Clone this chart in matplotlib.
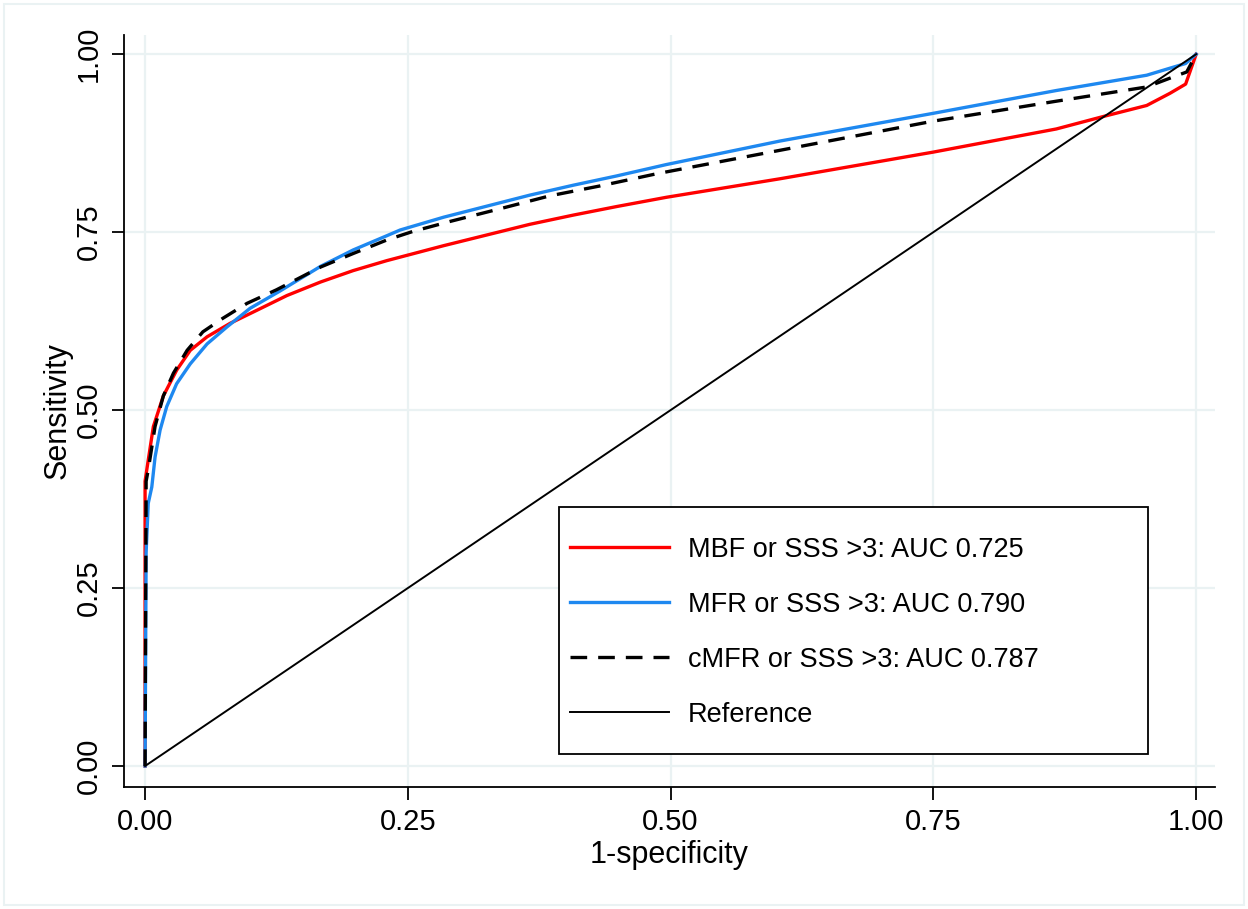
import matplotlib
matplotlib.use("Agg")
import matplotlib.pyplot as plt
from matplotlib.patches import Rectangle

plt.rcParams['font.family'] = ['Liberation Sans', 'DejaVu Sans']

# ROC curves (1-specificity, sensitivity)
x_mbf = [0, 0, 0.0016, 0.0079, 0.0174, 0.030, 0.043, 0.059, 0.081, 0.106, 0.135, 0.167,
         0.198, 0.230, 0.284, 0.325, 0.366, 0.4075, 0.4487, 0.496, 0.604, 0.75,
         0.867, 0.913, 0.953, 0.975, 0.99, 1.0]
y_mbf = [0, 0.40, 0.416, 0.477, 0.520, 0.556, 0.584, 0.603, 0.622, 0.640, 0.661, 0.680,
         0.696, 0.710, 0.731, 0.746, 0.761, 0.774, 0.786, 0.799, 0.825, 0.8625,
         0.895, 0.913, 0.928, 0.945, 0.958, 1.0]

x_mfr = [0, 0.001, 0.003, 0.0064, 0.0095, 0.0143, 0.0206, 0.030, 0.043, 0.059, 0.078,
         0.0999, 0.128, 0.167, 0.198, 0.230, 0.2426, 0.284, 0.325, 0.366, 0.4075, 0.4487,
         0.496, 0.604, 0.75, 0.867, 0.953, 0.99, 1.0]
y_mfr = [0, 0.30, 0.369, 0.392, 0.434, 0.472, 0.505, 0.537, 0.565, 0.593, 0.617,
         0.643, 0.667, 0.702, 0.725, 0.745, 0.753, 0.771, 0.7865, 0.802, 0.816, 0.829,
         0.845, 0.878, 0.917, 0.949, 0.9705, 0.987, 1.0]

x_cmfr = [0, 0.001, 0.003, 0.0095, 0.0174, 0.027, 0.040, 0.055, 0.074, 0.097, 0.125,
          0.167, 0.198, 0.230, 0.2547, 0.290, 0.338, 0.385, 0.433, 0.4865, 0.604, 0.75,
          0.867, 0.953, 0.978, 0.991, 1.0]
y_cmfr = [0, 0.40, 0.416, 0.477, 0.520, 0.552, 0.584, 0.610, 0.629, 0.650, 0.669,
          0.701, 0.720, 0.739, 0.751, 0.765, 0.783, 0.801, 0.815, 0.832, 0.865, 0.906,
          0.934, 0.954, 0.968, 0.975, 1.0]

x_ref = [0, 1]
y_ref = [0, 1]

labels = ['MBF or SSS >3: AUC 0.725', 'MFR or SSS >3: AUC 0.790',
          'cMFR or SSS >3: AUC 0.787', 'Reference']
ticks = [0, 0.25, 0.5, 0.75, 1.0]
tick_labels = ['0.00', '0.25', '0.50', '0.75', '1.00']

grid_col = '#eaf2f3'

fig = plt.figure(figsize=(12.48, 9.09), dpi=100)
ax = fig.add_axes([0.0994, 0.1342, 0.8742, 0.8273])

ax.plot(x_mbf, y_mbf, color='#ff0000', lw=2.4, label=labels[0], zorder=3)
ax.plot(x_mfr, y_mfr, color='#1e88f0', lw=2.4, label=labels[1], zorder=3)
ax.plot(x_cmfr, y_cmfr, color='black', lw=2.4, dashes=(5, 3.3), label=labels[2], zorder=4)
ax.plot(x_ref, y_ref, color='black', lw=1.4, label=labels[3], zorder=3)

ax.set_xlim(-0.02, 1.018)
ax.set_ylim(-0.0295, 1.027)
ax.set_xticks(ticks)
ax.set_xticklabels(tick_labels)
ax.set_yticks(ticks)
ax.set_yticklabels(tick_labels, rotation=90, va='center')
ax.tick_params(labelsize=21, length=9, width=1.3, direction='out', pad=6, colors='black')
ax.grid(True, color=grid_col, lw=1.6)
ax.set_axisbelow(True)

for s in ['top', 'right']:
    ax.spines[s].set_visible(False)
for s in ['left', 'bottom']:
    ax.spines[s].set_linewidth(1.3)

ax.set_xlabel('1-specificity', fontsize=22, labelpad=3)
ax.set_ylabel('Sensitivity', fontsize=22, labelpad=2)

# legend box drawn separately so the entries can sit freely inside it
box = Rectangle((0.3987, 0.0439), 0.5399, 0.3284, transform=ax.transAxes,
                facecolor='white', edgecolor='black', lw=1.3, zorder=5)
ax.add_patch(box)
leg = ax.legend(loc='upper left', bbox_to_anchor=(0.4088, 0.3327), frameon=False,
                fontsize=19.5, handlelength=3.67, handletextpad=0.67,
                labelspacing=1.07, borderpad=0, borderaxespad=0)
leg.set_zorder(6)

# light outer frame around the whole graph
fig.patches.append(Rectangle((0.003, 0.004), 0.994, 0.992, transform=fig.transFigure,
                             fill=False, edgecolor=grid_col, lw=1.5))

fig.savefig('out.png', dpi=100)
